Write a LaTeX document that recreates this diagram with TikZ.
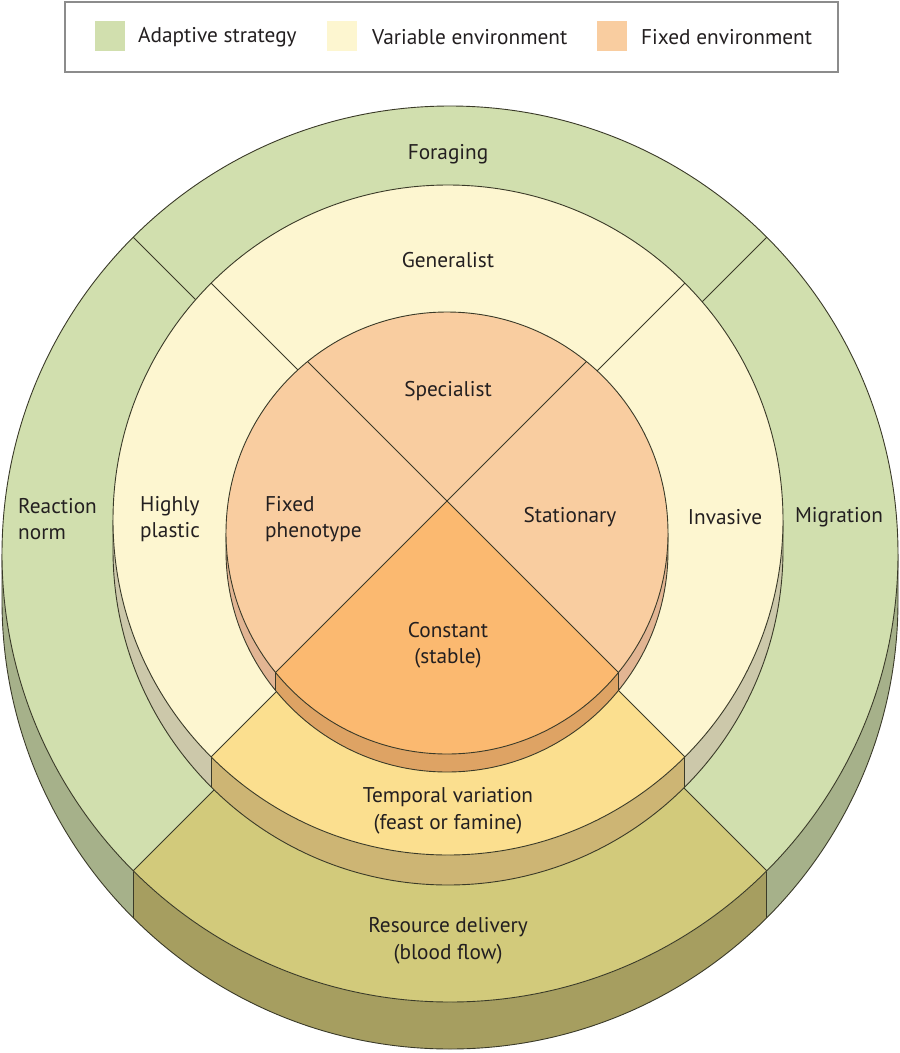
\documentclass[tikz,border=0pt]{standalone}
\usepackage{fontspec}
\setmainfont{PT Sans}
\usepackage{xcolor}
\definecolor{adaptfill}{RGB}{209,223,174}
\definecolor{adaptside}{RGB}{166,177,138}
\definecolor{varfill}{RGB}{253,246,208}
\definecolor{varside}{RGB}{204,200,170}
\definecolor{fixfill}{RGB}{249,205,160}
\definecolor{fixside}{RGB}{226,181,147}
\definecolor{constfill}{RGB}{251,185,112}
\definecolor{constside}{RGB}{222,163,100}
\definecolor{tempfill}{RGB}{251,223,143}
\definecolor{tempside}{RGB}{205,181,116}
\definecolor{flowfill}{RGB}{210,202,123}
\definecolor{flowside}{RGB}{166,158,96}
\definecolor{edge}{RGB}{58,58,40}
\definecolor{ink}{RGB}{35,31,32}
\usetikzlibrary{calc}

\begin{document}
\begin{tikzpicture}[x=1pt,y=-1pt,
  outline/.style={draw=edge,line width=0.9pt},
  label/.style={font=\fontsize{21.3}{26.5}\selectfont,text=ink,align=center,inner sep=0pt}]

\useasboundingbox (0,0) rectangle (900,1053);

% Legend
  \draw[draw=black!45,line width=1.2pt,fill=white] (65,2) rectangle (838,72);
  \fill[adaptfill] (95,21) rectangle (125,51);
  \node[label,anchor=west] (legadaptive) at (138,37) {Adaptive strategy};
  \fill[varfill] (327,21) rectangle (357,51);
  \node[label,anchor=west] (legvariable) at (372,37) {Variable environment};
  \fill[fixfill] (597,21) rectangle (627,51);
  \node[label,anchor=west] (legfixed) at (641,37) {Fixed environment};

% Outer tier
\coordinate (O) at (450,554);
  % side
  \fill[adaptside] ($(O)+(0:448)$) arc[start angle=0,end angle=45,radius=448] -- ++(0,47) arc[start angle=45,end angle=0,radius=448] -- cycle;
  \fill[adaptside] ($(O)+(135:448)$) arc[start angle=135,end angle=180,radius=448] -- ++(0,47) arc[start angle=180,end angle=135,radius=448] -- cycle;
  \fill[flowside] ($(O)+(45:448)$) arc[start angle=45,end angle=135,radius=448] -- ++(0,47) arc[start angle=135,end angle=45,radius=448] -- cycle;
  \draw[outline] ($(O)+(0:448)$) -- ++(0,47) arc[start angle=0,end angle=180,radius=448] -- ++(0,-47);
  \draw[outline] ($(O)+(45:448)$) -- ++(0,47);
  \draw[outline] ($(O)+(135:448)$) -- ++(0,47);
  % top
  \fill[adaptfill] (O) circle[radius=448];
  \fill[flowfill] (O) -- ($(O)+(45:448)$) arc[start angle=45,end angle=135,radius=448] -- cycle;
  \draw[outline] (O) circle[radius=448];
  \draw[outline] ($(O)+(45:448)$) -- ($(O)+(225:448)$);
  \draw[outline] ($(O)+(135:448)$) -- ($(O)+(315:448)$);

% Middle tier
\coordinate (M) at (448,520);
  % side
  \fill[varside] ($(M)+(0:335)$) arc[start angle=0,end angle=45,radius=335] -- ++(0,30) arc[start angle=45,end angle=0,radius=335] -- cycle;
  \fill[varside] ($(M)+(135:335)$) arc[start angle=135,end angle=180,radius=335] -- ++(0,30) arc[start angle=180,end angle=135,radius=335] -- cycle;
  \fill[tempside] ($(M)+(45:335)$) arc[start angle=45,end angle=135,radius=335] -- ++(0,30) arc[start angle=135,end angle=45,radius=335] -- cycle;
  \draw[outline] ($(M)+(0:335)$) -- ++(0,30) arc[start angle=0,end angle=180,radius=335] -- ++(0,-30);
  \draw[outline] ($(M)+(45:335)$) -- ++(0,30);
  \draw[outline] ($(M)+(135:335)$) -- ++(0,30);
  % top
  \fill[varfill] (M) circle[radius=335];
  \fill[tempfill] (M) -- ($(M)+(45:335)$) arc[start angle=45,end angle=135,radius=335] -- cycle;
  \draw[outline] (M) circle[radius=335];
  \draw[outline] ($(M)+(45:335)$) -- ($(M)+(225:335)$);
  \draw[outline] ($(M)+(135:335)$) -- ($(M)+(315:335)$);

% Inner tier
\coordinate (I) at (447,533);
\coordinate (C) at (447,501);
  % side
  \fill[fixside] ($(I)+(0:221)$) arc[start angle=0,end angle=39.12,radius=221] -- ++(0,18) arc[start angle=39.12,end angle=0,radius=221] -- cycle;
  \fill[fixside] ($(I)+(140.88:221)$) arc[start angle=140.88,end angle=180,radius=221] -- ++(0,18) arc[start angle=180,end angle=140.88,radius=221] -- cycle;
  \fill[constside] ($(I)+(39.12:221)$) arc[start angle=39.12,end angle=140.88,radius=221] -- ++(0,18) arc[start angle=140.88,end angle=39.12,radius=221] -- cycle;
  \draw[outline] ($(I)+(0:221)$) -- ++(0,18) arc[start angle=0,end angle=180,radius=221] -- ++(0,-18);
  \draw[outline] ($(I)+(39.12:221)$) -- ++(0,18);
  \draw[outline] ($(I)+(140.88:221)$) -- ++(0,18);
  % top
  \fill[fixfill] (I) circle[radius=221];
  \fill[constfill] (C) -- ($(I)+(39.12:221)$) arc[start angle=39.12,end angle=140.88,radius=221] -- cycle;
  \draw[outline] (I) circle[radius=221];
  \draw[outline] (C) -- ($(I)+(39.12:221)$);
  \draw[outline] (C) -- ($(I)+(140.88:221)$);
  \draw[outline] (C) -- ($(I)+(230.88:221)$);
  \draw[outline] (C) -- ($(I)+(309.12:221)$);

% Labels
  \node[label] (foraging) at (448,154) {Foraging};
  \node[label] (generalist) at (448,260) {Generalist};
  \node[label] (specialist) at (448,391) {Specialist};
  \node[label,align=left,anchor=west] (reaction) at (18,519) {Reaction\\norm};
  \node[label,align=left,anchor=west] (plastic) at (140,519) {Highly\\plastic};
  \node[label,align=left,anchor=west] (phenotype) at (265,519) {Fixed\\phenotype};
  \node[label] (stationary) at (570,517) {Stationary};
  \node[label] (invasive) at (725,517) {Invasive};
  \node[label] (migration) at (839,517) {Migration};
  \node[label] (constantlbl) at (448,645) {Constant\\(stable)};
  \node[label] (temporallbl) at (448,811) {Temporal variation\\(feast or famine)};
  \node[label] (deliverylbl) at (448,941) {Resource delivery\\(blood flow)};

\end{tikzpicture}
\end{document}
